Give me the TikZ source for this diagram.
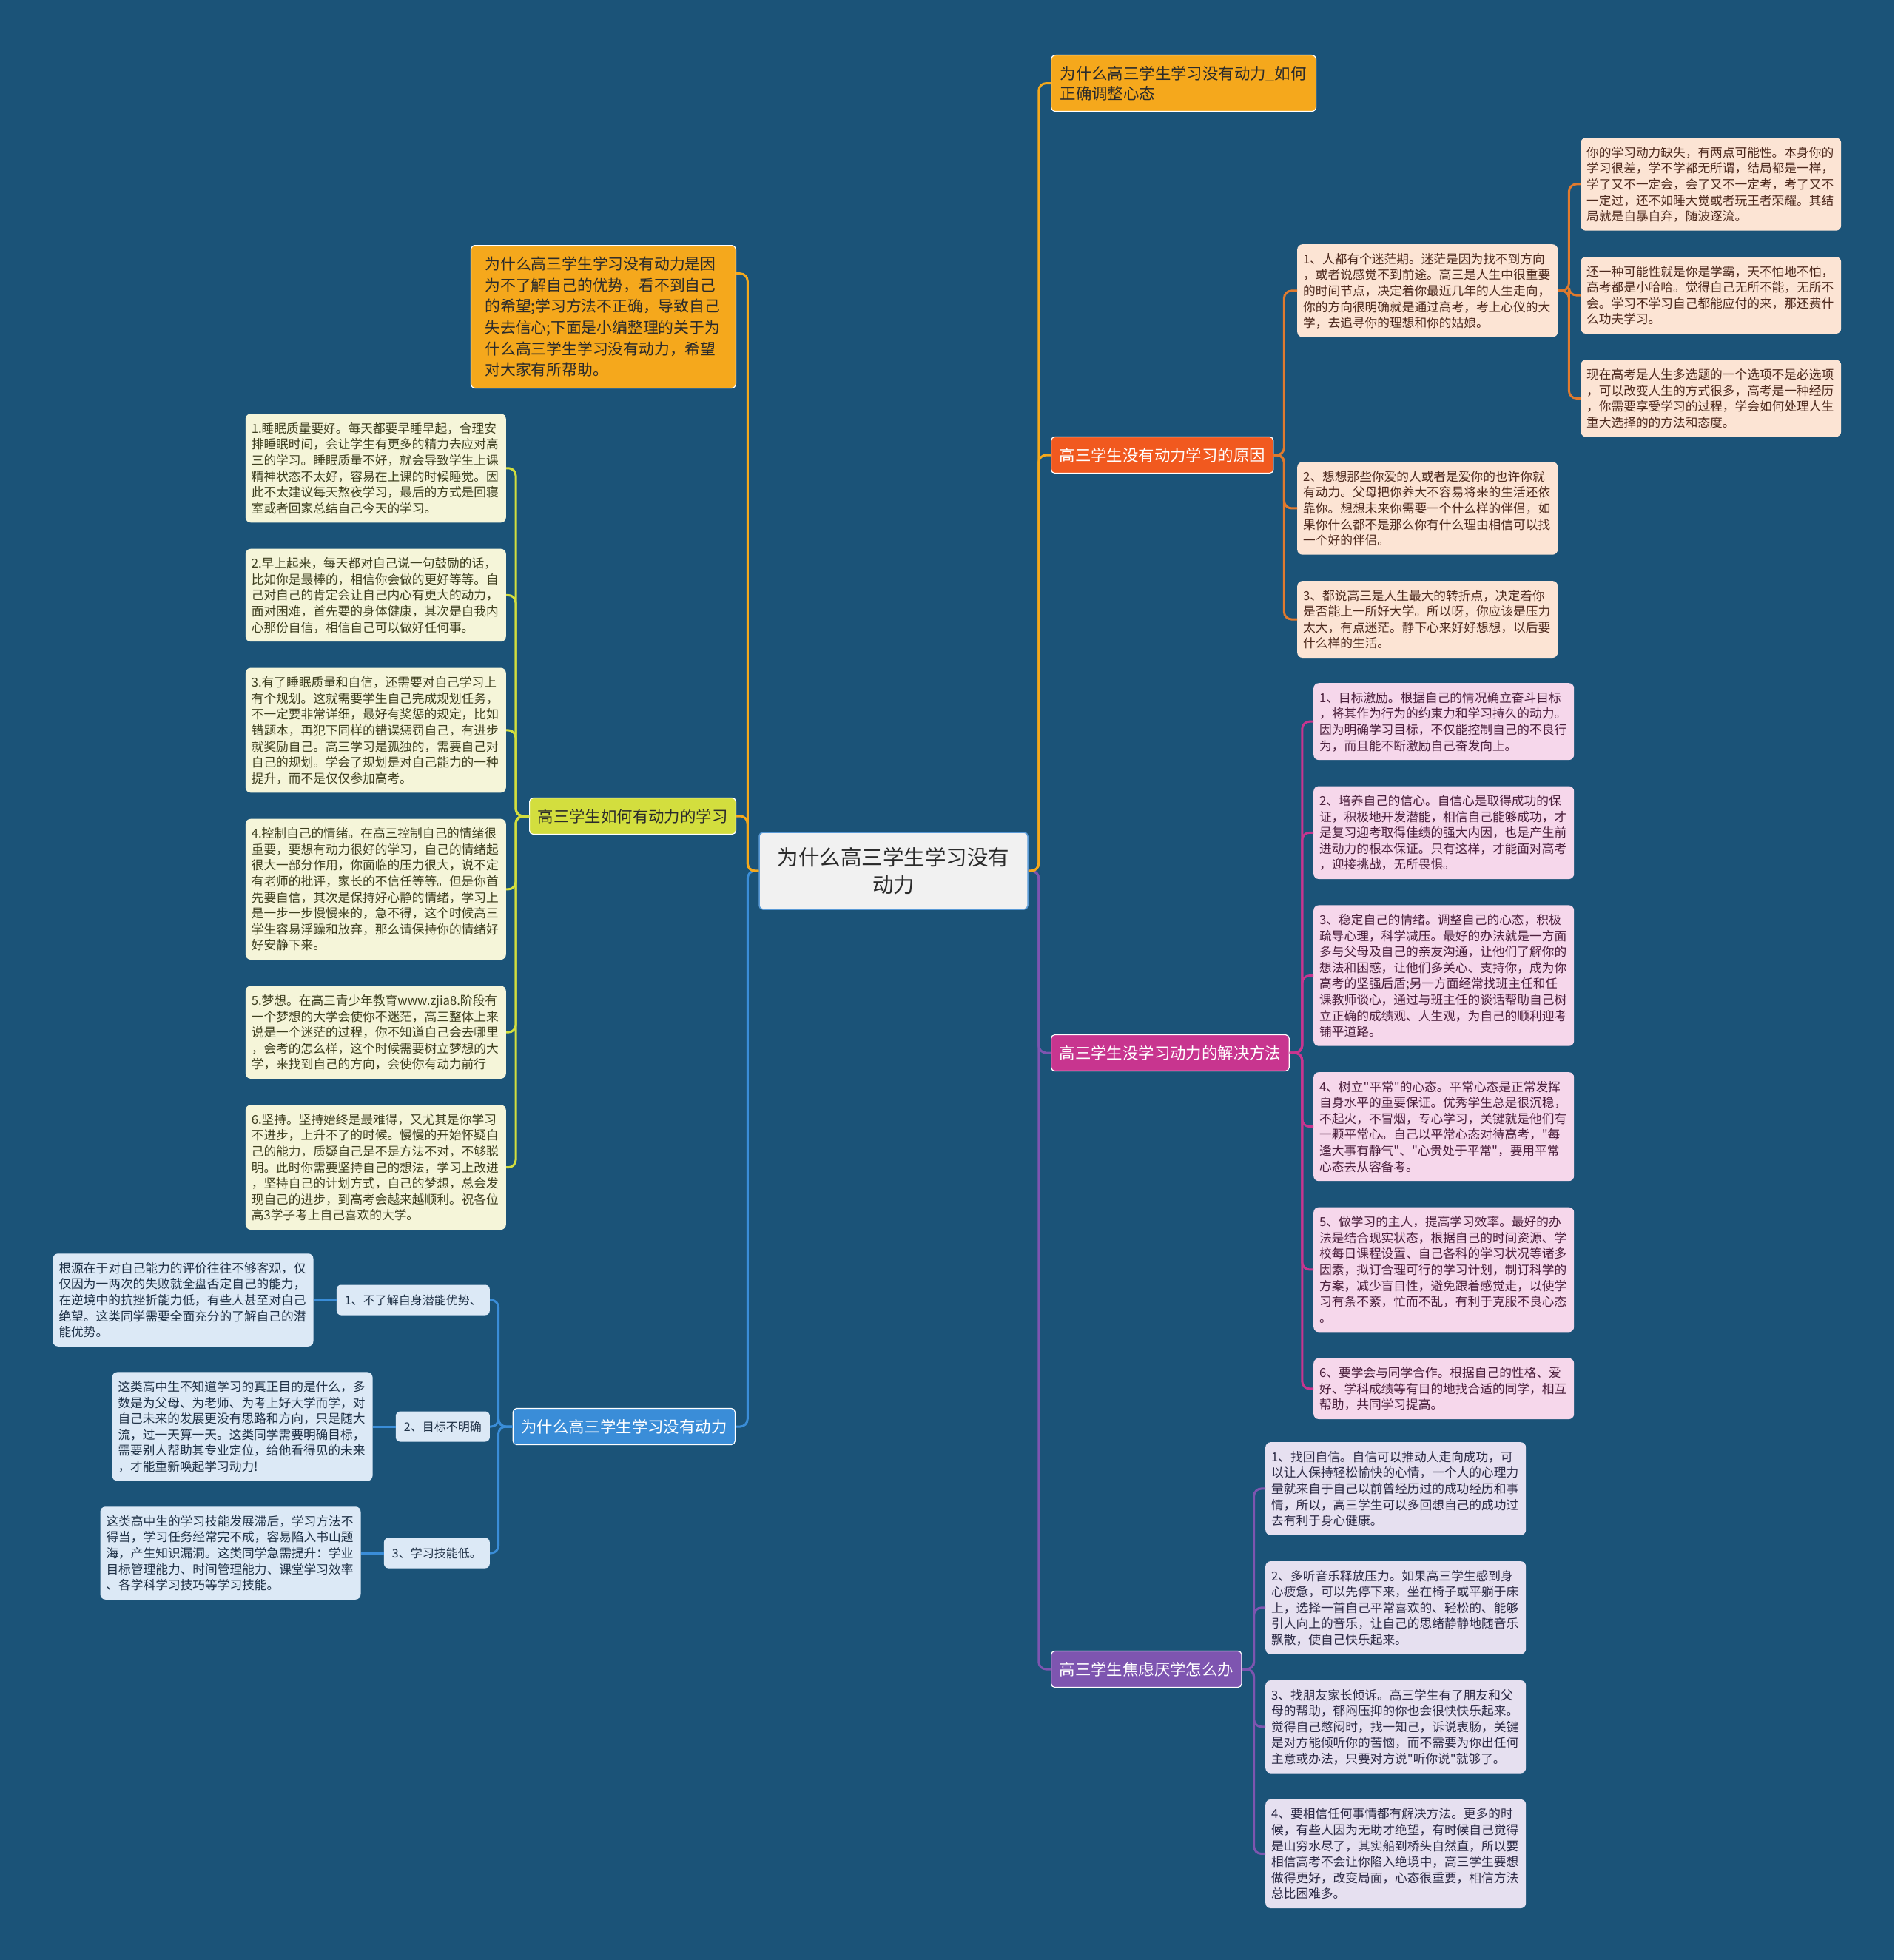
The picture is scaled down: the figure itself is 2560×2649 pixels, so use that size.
\documentclass[tikz,border=0pt]{standalone}
\usepackage{fontspec}
\setmainfont{Noto Sans CJK SC}[Ligatures=TeXOff]
\usepackage{tikz}
\usetikzlibrary{positioning}
\definecolor{Fondo}{HTML}{1B5378}
\definecolor{Ambar}{HTML}{F5A81C}
\definecolor{Rojizo}{HTML}{F1591F}
\definecolor{Durazno}{HTML}{FCE4D4}
\definecolor{NaranjaLinea}{HTML}{E07A2E}
\definecolor{Magenta}{HTML}{C8358F}
\definecolor{Rosa}{HTML}{F6D7EB}
\definecolor{Morado}{HTML}{7E55B0}
\definecolor{Lavanda}{HTML}{E6E0F0}
\definecolor{Lima}{HTML}{D3DE3E}
\definecolor{Crema}{HTML}{F5F5D9}
\definecolor{Azul}{HTML}{3A8DD8}
\definecolor{Celeste}{HTML}{DCE9F6}
\definecolor{Gris}{HTML}{F1F1F1}
\definecolor{BordeAzul}{HTML}{5A9AD6}
\definecolor{TextoCafe}{HTML}{4E2A1E}
\definecolor{TextoOliva}{HTML}{3E3F1F}
\definecolor{TextoVino}{HTML}{4B1F3C}
\definecolor{TextoTinta}{HTML}{2C2A45}
\definecolor{TextoAzul}{HTML}{1F3146}
\definecolor{TextoOscuro}{HTML}{2B2B2B}
\newcommand{\chica}{\fontsize{16.7pt}{21.6pt}\selectfont}
\newcommand{\media}{\fontsize{21.4pt}{26.7pt}\selectfont}
\newcommand{\intro}{\fontsize{20.8pt}{28.7pt}\selectfont}
\newcommand{\grande}{\fontsize{28.5pt}{37pt}\selectfont}
\newcommand{\puntal}{\rule[-4.3pt]{0pt}{21.6pt}}

\begin{document}
\begin{tikzpicture}[
    x=1pt, y=-1pt,
    caja/.style={rounded corners=7pt, align=left, text width=336pt, inner xsep=8pt, inner ysep=8.75pt, font=\chica,
        execute at begin node=\puntal, execute at end node=\puntal},
    rama/.style={draw=white, line width=1.2pt, rounded corners=5pt, inner xsep=11pt, minimum height=49pt, font=\media, text=white},
    hoja/.style={fill=Celeste, text=TextoAzul, rounded corners=6pt, inner xsep=11pt, minimum height=41pt, font=\fontsize{16pt}{20pt}\selectfont},
    con/.style={line width=3pt, rounded corners=10pt},
    node distance=35pt and 31pt
]
    \fill[Fondo] (0,0) rectangle (2560,2649);
    \useasboundingbox (0,0) rectangle (2560,2649);

    \node[fill=Gris, draw=BordeAzul, line width=1.5pt, rounded corners=5pt, text=TextoOscuro, align=center, text width=320pt, minimum width=363pt, minimum height=104pt, font=\grande] (centro) at (1207.5,1177) {为什么高三学生学习没有\\动力};

    \node[fill=Ambar, draw=white, line width=1.2pt, rounded corners=6pt, text=TextoOscuro, align=left, text width=334pt, inner xsep=12pt, minimum height=76pt, font=\media, anchor=north west] (titulo) at (1420,74) {为什么高三学生学习没有动力\_如何\\正确调整心态};

    \node[rama, fill=Rojizo, anchor=west] (razon) at (1420,615) {高三学生没有动力学习的原因};
    \node[caja, fill=Durazno, text=TextoCafe, anchor=north west] (r1) at (1753,330) {1、人都有个迷茫期。迷茫是因为找不到方向\\，或者说感觉不到前途。高三是人生中很重要\\的时间节点，决定着你最近几年的人生走向，\\你的方向很明确就是通过高考，考上心仪的大\\学，去追寻你的理想和你的姑娘。};
    \node[caja, fill=Durazno, text=TextoCafe, anchor=north west] (r2) at (1753,624) {2、想想那些你爱的人或者是爱你的也许你就\\有动力。父母把你养大不容易将来的生活还依\\靠你。想想未来你需要一个什么样的伴侣，如\\果你什么都不是那么你有什么理由相信可以找\\一个好的伴侣。};
    \node[caja, fill=Durazno, text=TextoCafe, below=of r2] (r3) {3、都说高三是人生最大的转折点，决定着你\\是否能上一所好大学。所以呀，你应该是压力\\太大，有点迷茫。静下心来好好想想，以后要\\什么样的生活。};
    \node[caja, fill=Durazno, text=TextoCafe, anchor=north west] (p1) at (2136,186) {你的学习动力缺失，有两点可能性。本身你的\\学习很差，学不学都无所谓，结局都是一样，\\学了又不一定会，会了又不一定考，考了又不\\一定过，还不如睡大觉或者玩王者荣耀。其结\\局就是自暴自弃，随波逐流。};
    \node[caja, fill=Durazno, text=TextoCafe, below=of p1] (p2) {还一种可能性就是你是学霸，天不怕地不怕，\\高考都是小哈哈。觉得自己无所不能，无所不\\会。学习不学习自己都能应付的来，那还费什\\么功夫学习。};
    \node[caja, fill=Durazno, text=TextoCafe, below=of p2] (p3) {现在高考是人生多选题的一个选项不是必选项\\，可以改变人生的方式很多，高考是一种经历\\，你需要享受学习的过程，学会如何处理人生\\重大选择的的方法和态度。};

    \node[rama, fill=Magenta, anchor=west] (solucion) at (1420,1423) {高三学生没学习动力的解决方法};
    \node[caja, fill=Rosa, text=TextoVino, anchor=north west] (k1) at (1775,923) {1、目标激励。根据自己的情况确立奋斗目标\\，将其作为行为的约束力和学习持久的动力。\\因为明确学习目标，不仅能控制自己的不良行\\为，而且能不断激励自己奋发向上。};
    \node[caja, fill=Rosa, text=TextoVino, below=of k1] (k2) {2、培养自己的信心。自信心是取得成功的保\\证，积极地开发潜能，相信自己能够成功，才\\是复习迎考取得佳绩的强大内因，也是产生前\\进动力的根本保证。只有这样，才能面对高考\\，迎接挑战，无所畏惧。};
    \node[caja, fill=Rosa, text=TextoVino, below=of k2] (k3) {3、稳定自己的情绪。调整自己的心态，积极\\疏导心理，科学减压。最好的办法就是一方面\\多与父母及自己的亲友沟通，让他们了解你的\\想法和困惑，让他们多关心、支持你，成为你\\高考的坚强后盾;另一方面经常找班主任和任\\课教师谈心，通过与班主任的谈话帮助自己树\\立正确的成绩观、人生观，为自己的顺利迎考\\铺平道路。};
    \node[caja, fill=Rosa, text=TextoVino, below=of k3] (k4) {4、树立"平常"的心态。平常心态是正常发挥\\自身水平的重要保证。优秀学生总是很沉稳，\\不起火，不冒烟，专心学习，关键就是他们有\\一颗平常心。自己以平常心态对待高考，"每\\逢大事有静气"、"心贵处于平常"，要用平常\\心态去从容备考。};
    \node[caja, fill=Rosa, text=TextoVino, below=of k4] (k5) {5、做学习的主人，提高学习效率。最好的办\\法是结合现实状态，根据自己的时间资源、学\\校每日课程设置、自己各科的学习状况等诸多\\因素，拟订合理可行的学习计划，制订科学的\\方案，减少盲目性，避免跟着感觉走，以使学\\习有条不紊，忙而不乱，有利于克服不良心态\\。};
    \node[caja, fill=Rosa, text=TextoVino, below=of k5] (k6) {6、要学会与同学合作。根据自己的性格、爱\\好、学科成绩等有目的地找合适的同学，相互\\帮助，共同学习提高。};

    \node[rama, fill=Morado, anchor=west] (ansiedad) at (1420,2256) {高三学生焦虑厌学怎么办};
    \node[caja, fill=Lavanda, text=TextoTinta, anchor=north west] (v1) at (1710,1949) {1、找回自信。自信可以推动人走向成功，可\\以让人保持轻松愉快的心情，一个人的心理力\\量就来自于自己以前曾经历过的成功经历和事\\情，所以，高三学生可以多回想自己的成功过\\去有利于身心健康。};
    \node[caja, fill=Lavanda, text=TextoTinta, below=of v1] (v2) {2、多听音乐释放压力。如果高三学生感到身\\心疲惫，可以先停下来，坐在椅子或平躺于床\\上，选择一首自己平常喜欢的、轻松的、能够\\引人向上的音乐，让自己的思绪静静地随音乐\\飘散，使自己快乐起来。};
    \node[caja, fill=Lavanda, text=TextoTinta, below=of v2] (v3) {3、找朋友家长倾诉。高三学生有了朋友和父\\母的帮助，郁闷压抑的你也会很快快乐起来。\\觉得自己憋闷时，找一知己，诉说衷肠，关键\\是对方能倾听你的苦恼，而不需要为你出任何\\主意或办法，只要对方说"听你说"就够了。};
    \node[caja, fill=Lavanda, text=TextoTinta, below=of v3] (v4) {4、要相信任何事情都有解决方法。更多的时\\候，有些人因为无助才绝望，有时候自己觉得\\是山穷水尽了，其实船到桥头自然直，所以要\\相信高考不会让你陷入绝境中，高三学生要想\\做得更好，改变局面，心态很重要，相信方法\\总比困难多。};

    \node[fill=Ambar, draw=white, line width=1.2pt, rounded corners=6pt, text=TextoOscuro, align=left, text width=320pt, inner xsep=19pt, minimum height=193pt, font=\intro, anchor=north east] (resumen) at (995,331) {为什么高三学生学习没有动力是因\\为不了解自己的优势，看不到自己\\的希望;学习方法不正确，导致自己\\失去信心;下面是小编整理的关于为\\什么高三学生学习没有动力，希望\\对大家有所帮助。};

    \node[rama, fill=Lima, text=TextoOscuro, anchor=east] (habitos) at (995,1103) {高三学生如何有动力的学习};
    \node[caja, fill=Crema, text=TextoOliva, anchor=north east] (y1) at (684,559) {1.睡眠质量要好。每天都要早睡早起，合理安\\排睡眠时间，会让学生有更多的精力去应对高\\三的学习。睡眠质量不好，就会导致学生上课\\精神状态不太好，容易在上课的时候睡觉。因\\此不太建议每天熬夜学习，最后的方式是回寝\\室或者回家总结自己今天的学习。};
    \node[caja, fill=Crema, text=TextoOliva, below=of y1] (y2) {2.早上起来，每天都对自己说一句鼓励的话，\\比如你是最棒的，相信你会做的更好等等。自\\己对自己的肯定会让自己内心有更大的动力，\\面对困难，首先要的身体健康，其次是自我内\\心那份自信，相信自己可以做好任何事。};
    \node[caja, fill=Crema, text=TextoOliva, below=of y2] (y3) {3.有了睡眠质量和自信，还需要对自己学习上\\有个规划。这就需要学生自己完成规划任务，\\不一定要非常详细，最好有奖惩的规定，比如\\错题本，再犯下同样的错误惩罚自己，有进步\\就奖励自己。高三学习是孤独的，需要自己对\\自己的规划。学会了规划是对自己能力的一种\\提升，而不是仅仅参加高考。};
    \node[caja, fill=Crema, text=TextoOliva, below=of y3] (y4) {4.控制自己的情绪。在高三控制自己的情绪很\\重要，要想有动力很好的学习，自己的情绪起\\很大一部分作用，你面临的压力很大，说不定\\有老师的批评，家长的不信任等等。但是你首\\先要自信，其次是保持好心静的情绪，学习上\\是一步一步慢慢来的，急不得，这个时候高三\\学生容易浮躁和放弃，那么请保持你的情绪好\\好安静下来。};
    \node[caja, fill=Crema, text=TextoOliva, below=of y4] (y5) {5.梦想。在高三青少年教育www.zjia8.阶段有\\一个梦想的大学会使你不迷茫，高三整体上来\\说是一个迷茫的过程，你不知道自己会去哪里\\，会考的怎么样，这个时候需要树立梦想的大\\学，来找到自己的方向，会使你有动力前行};
    \node[caja, fill=Crema, text=TextoOliva, below=of y5] (y6) {6.坚持。坚持始终是最难得，又尤其是你学习\\不进步，上升不了的时候。慢慢的开始怀疑自\\己的能力，质疑自己是不是方法不对，不够聪\\明。此时你需要坚持自己的想法，学习上改进\\，坚持自己的计划方式，自己的梦想，总会发\\现自己的进步，到高考会越来越顺利。祝各位\\高3学子考上自己喜欢的大学。};

    \node[rama, fill=Azul, anchor=east] (causas) at (994,1928) {为什么高三学生学习没有动力};
    \node[hoja, anchor=east] (b1) at (662,1757) {1、不了解自身潜能优势、};
    \node[hoja, anchor=east] (b2) at (662,1928) {2、目标不明确};
    \node[hoja, anchor=east] (b3) at (662,2099) {3、学习技能低。};
    \node[caja, fill=Celeste, text=TextoAzul, left=of b1] (d1) {根源在于对自己能力的评价往往不够客观，仅\\仅因为一两次的失败就全盘否定自己的能力，\\在逆境中的抗挫折能力低，有些人甚至对自己\\绝望。这类同学需要全面充分的了解自己的潜\\能优势。};
    \node[caja, fill=Celeste, text=TextoAzul, left=of b2] (d2) {这类高中生不知道学习的真正目的是什么，多\\数是为父母、为老师、为考上好大学而学，对\\自己未来的发展更没有思路和方向，只是随大\\流，过一天算一天。这类同学需要明确目标，\\需要别人帮助其专业定位，给他看得见的未来\\，才能重新唤起学习动力!};
    \node[caja, fill=Celeste, text=TextoAzul, left=of b3] (d3) {这类高中生的学习技能发展滞后，学习方法不\\得当，学习任务经常完不成，容易陷入书山题\\海，产生知识漏洞。这类同学急需提升：学业\\目标管理能力、时间管理能力、课堂学习效率\\、各学科学习技巧等学习技能。};

    \draw[con, Morado] (centro.east) -- ++(14pt,0) |- (solucion.west);
    \draw[con, Morado] (centro.east) -- ++(14pt,0) |- (ansiedad.west);
    \draw[con, Ambar] (centro.east) -- ++(14pt,0) |- (razon.west);
    \draw[con, Ambar] (centro.east) -- ++(14pt,0) |- (titulo.west);
    \draw[con, Azul] (centro.west) -- ++(-15pt,0) |- (causas.east);
    \draw[con, Ambar] (centro.west) -- ++(-15pt,0) |- (habitos.east);
    \draw[con, Ambar] (centro.west) -- ++(-15pt,0) |- (resumen.18);

    \draw[con, NaranjaLinea] (razon.east) -- ++(14pt,0) |- (r1.west);
    \draw[con, NaranjaLinea] (razon.east) -- ++(14pt,0) |- (r2.west);
    \draw[con, NaranjaLinea] (razon.east) -- ++(14pt,0) |- (r3.west);
    \draw[con, NaranjaLinea] (r1.east) -- ++(15pt,0) |- (p1.west);
    \draw[con, NaranjaLinea] (r1.east) -- ++(15pt,0) |- (p2.west);
    \draw[con, NaranjaLinea] (r1.east) -- ++(15pt,0) |- (p3.west);
    \draw[con, Magenta] (solucion.east) -- ++(17pt,0) |- (k1.west);
    \draw[con, Magenta] (solucion.east) -- ++(17pt,0) |- (k2.west);
    \draw[con, Magenta] (solucion.east) -- ++(17pt,0) |- (k3.west);
    \draw[con, Magenta] (solucion.east) -- ++(17pt,0) |- (k4.west);
    \draw[con, Magenta] (solucion.east) -- ++(17pt,0) |- (k5.west);
    \draw[con, Magenta] (solucion.east) -- ++(17pt,0) |- (k6.west);
    \draw[con, Morado] (ansiedad.east) -- ++(16pt,0) |- (v1.west);
    \draw[con, Morado] (ansiedad.east) -- ++(16pt,0) |- (v2.west);
    \draw[con, Morado] (ansiedad.east) -- ++(16pt,0) |- (v3.west);
    \draw[con, Morado] (ansiedad.east) -- ++(16pt,0) |- (v4.west);
    \draw[con, Lima] (habitos.west) -- ++(-18pt,0) |- (y1.east);
    \draw[con, Lima] (habitos.west) -- ++(-18pt,0) |- (y2.east);
    \draw[con, Lima] (habitos.west) -- ++(-18pt,0) |- (y3.east);
    \draw[con, Lima] (habitos.west) -- ++(-18pt,0) |- (y4.east);
    \draw[con, Lima] (habitos.west) -- ++(-18pt,0) |- (y5.east);
    \draw[con, Lima] (habitos.west) -- ++(-18pt,0) |- (y6.east);
    \draw[con, Azul] (causas.west) -- ++(-19pt,0) |- (b1.east);
    \draw[con, Azul] (causas.west) -- ++(-19pt,0) |- (b2.east);
    \draw[con, Azul] (causas.west) -- ++(-19pt,0) |- (b3.east);
    \draw[con, Azul] (b1.west) -- (d1.east);
    \draw[con, Azul] (b2.west) -- (d2.east);
    \draw[con, Azul] (b3.west) -- (d3.east);
\end{tikzpicture}
\end{document}
